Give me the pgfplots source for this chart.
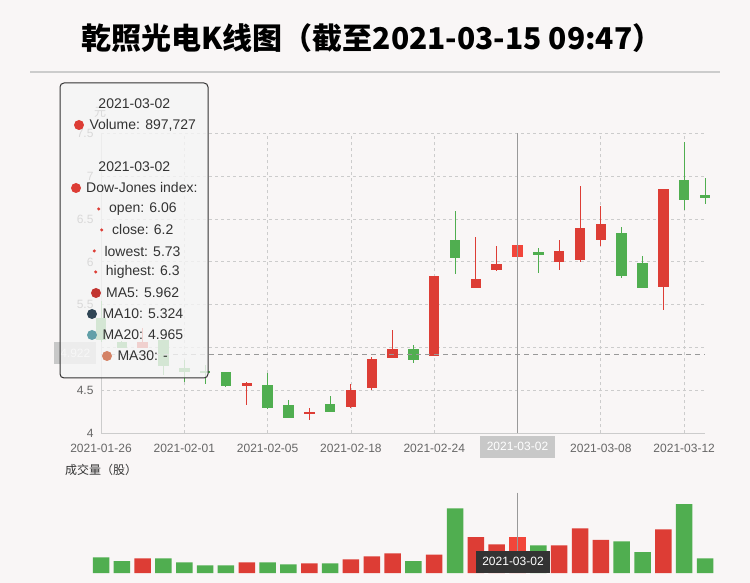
\documentclass[border=0pt]{standalone}
\usepackage{fontspec}
\setmainfont{Liberation Sans}
\newfontfamily\cjk{Noto Sans CJK SC}
\usepackage{pgfplots}
\usepackage{pgfplotstable}
\pgfplotsset{compat=1.18}

\definecolor{bg}{HTML}{F9F6F6}
\definecolor{up}{HTML}{DD3D35}
\definecolor{upHL}{HTML}{F2453A}
\definecolor{dn}{HTML}{50AE50}
\definecolor{gridc}{HTML}{CCCCCC}
\definecolor{lab}{HTML}{666666}
\definecolor{txt}{HTML}{333333}
\definecolor{ptr}{HTML}{C8C8C8}

% i = trading day index, o/c/l/h = open/close/low/high, v = volume
\pgfplotstableread{
i  o     c     l     h     v
2  4.99  5.06  4.99  5.23  365700
7  4.55  4.59  4.33  4.60  266000
10 4.22  4.25  4.16  4.29  241000
12 4.31  4.51  4.30  4.58  340800
13 4.53  4.87  4.50  4.89  415600
14 4.88  4.98  4.88  5.20  490400
16 4.90  5.83  4.90  5.83  457200
18 5.69  5.80  5.69  6.29  897700
19 5.91  5.97  5.89  6.18  714800
20 6.06  6.20  5.73  6.30  897727
22 6.00  6.13  5.91  6.25  689900
23 6.02  6.39  6.00  6.88  1113800
24 6.26  6.44  6.19  6.65  831200
27 5.71  6.85  5.44  6.85  1088900
}\up

\pgfplotstableread{
i  o     c     l     h     v
0  5.34  5.09  5.06  5.54  390700
1  5.07  4.99  4.99  5.08  299200
3  5.09  4.78  4.68  5.09  365700
4  4.76  4.71  4.60  4.85  266000
5  4.73  4.71  4.58  4.80  191200
6  4.71  4.55  4.54  4.72  191200
8  4.56  4.29  4.28  4.70  266000
9  4.33  4.18  4.175 4.39  216100
11 4.34  4.25  4.245 4.43  241000
15 4.98  4.86  4.82  5.03  299200
17 6.26  6.04  5.86  6.59  1612500
21 6.11  6.08  5.875 6.16  689900
25 6.34  5.83  5.81  6.41  789600
26 5.99  5.70  5.70  6.07  523700
28 6.96  6.72  6.60  7.40  1720600
29 6.78  6.74  6.68  6.98  365700
}\down

\pgfplotsset{
  wick/.style={only marks, mark=*, mark size=0pt, mark options={opacity=0}, forget plot,
    error bars/y dir=both, error bars/y explicit, error bars/error mark=none,
    error bars/error bar style={line width=1bp, draw=#1, opacity=1}},
  body/.style={only marks, mark=*, mark size=0pt, mark options={opacity=0}, forget plot,
    error bars/y dir=both, error bars/y explicit, error bars/error mark=none,
    error bars/error bar style={line width=10.5bp, draw=#1, opacity=1}},
}

\begin{document}
\begin{tikzpicture}
\path[use as bounding box, fill=bg] (0,0) rectangle (750bp,583bp);

% title
\node[font=\cjk\bfseries\fontsize{30bp}{34bp}\selectfont, text=black] at (372bp,545bp)
  {乾照光电K线图（截至2021-03-15 09:47）};
\draw[draw=gridc, line width=1.5bp] (30bp,511bp) -- (720bp,511bp);

% price chart
\begin{axis}[
  at={(101bp,149.7bp)}, anchor=south west,
  scale only axis, width=604bp, height=300bp,
  xmin=0, xmax=29, ymin=4, ymax=7.5, clip=false,
  axis x line*=bottom, axis y line*=left,
  axis line style={draw=gridc, -},
  xtick={0,4,...,28},
  xticklabels={2021-01-26,2021-02-01,2021-02-05,2021-02-18,2021-02-24,2021-03-02,2021-03-08,2021-03-12},
  ytick={4,4.5,...,7.5},
  major tick length=0pt,
  grid=major,
  major grid style={draw=gridc, dash pattern=on 3bp off 3bp, line width=0.8bp},
  tick label style={font=\fontsize{12bp}{14bp}\selectfont, text=lab},
  /pgf/number format/assume math mode=true,
  yticklabel style={xshift=-4bp},
  xticklabel style={yshift=-7bp},
]
\addplot[wick=dn] table[x=i, y expr={(\thisrow{l}+\thisrow{h})/2}, y error expr={(\thisrow{h}-\thisrow{l})/2}] {\down};
\addplot[body=dn] table[x=i, y expr={(\thisrow{o}+\thisrow{c})/2}, y error expr={abs(\thisrow{c}-\thisrow{o})/2}] {\down};
\addplot[wick=up] table[x=i, y expr={(\thisrow{l}+\thisrow{h})/2}, y error expr={(\thisrow{h}-\thisrow{l})/2}] {\up};
\addplot[body=up] table[x=i, y expr={(\thisrow{o}+\thisrow{c})/2}, y error expr={abs(\thisrow{c}-\thisrow{o})/2}] {\up};
\addplot[body=upHL, restrict x to domain=19.5:20.5] table[x=i, y expr={(\thisrow{o}+\thisrow{c})/2}, y error expr={abs(\thisrow{c}-\thisrow{o})/2}] {\up};

% crosshair
\draw[draw=gray!80, line width=0.8bp] (axis cs:20,4) -- (axis cs:20,7.5);
\draw[draw=gray!80, line width=0.8bp, dash pattern=on 5bp off 4bp] (axis cs:0,4.922) -- (axis cs:29,4.922);
\end{axis}

\node[font=\fontsize{12bp}{14bp}\selectfont, text=lab] at (100bp,471bp) {\cjk 元};

% pointer labels
\node[fill=ptr, text=white, font=\fontsize{12bp}{14bp}\selectfont, minimum width=75bp, minimum height=22bp, inner sep=0pt]
  at (517.5bp,136.3bp) {2021-03-02};
\node[fill=ptr, text=white, font=\fontsize{12bp}{14bp}\selectfont, minimum width=42bp, minimum height=22bp, inner sep=0pt]
  at (75.3bp,229.5bp) {4.922};

% volume chart
\node[anchor=west, inner sep=0pt, text=txt, font=\cjk\fontsize{12bp}{14bp}\selectfont] at (65bp,113bp) {成交量（股）};
\begin{axis}[
  at={(101bp,10bp)}, anchor=south west,
  scale only axis, width=604bp, height=80bp,
  xmin=0, xmax=29, ymin=0, ymax=2000000, clip=false,
  hide axis,
]
\addplot[ybar, bar width=16.5bp, bar shift=0pt, fill=dn, draw=none] table[x=i, y=v] {\down};
\addplot[ybar, bar width=16.5bp, bar shift=0pt, fill=up, draw=none] table[x=i, y=v] {\up};
\addplot[ybar, bar width=16.5bp, bar shift=0pt, fill=upHL, draw=none, restrict x to domain=19.5:20.5] table[x=i, y=v] {\up};
\end{axis}
\draw[draw=gray!80, line width=0.8bp] (517bp,90.3bp) -- (517bp,32.3bp);
\node[fill=txt, text=white, font=\fontsize{12bp}{14bp}\selectfont, minimum width=74bp, minimum height=22bp, inner sep=0pt]
  at (513bp,21.3bp) {2021-03-02};

% tooltip
\draw[draw=txt, line width=1bp, rounded corners=4bp, fill=white!96!black, fill opacity=0.8]
  (60bp,500bp) rectangle (208bp,205bp);
\begin{scope}[every node/.style={font=\fontsize{14bp}{16bp}\selectfont, text=txt, inner sep=0pt}]
\node at (134.3bp,479bp) {2021-03-02};
\fill[up] (79bp,458bp) circle (5bp);
\node[anchor=west] at (89.3bp,458bp) {Volume: 897,727};
\node at (134.3bp,416bp) {2021-03-02};
\fill[up] (76bp,395bp) circle (5bp);
\node[anchor=west] at (86bp,395bp) {Dow-Jones index:};
\fill[up] (98.7bp,374bp) circle (1.7bp);
\node[anchor=west] at (109bp,374bp) {open: 6.06};
\fill[up] (101.7bp,353bp) circle (1.7bp);
\node[anchor=west] at (112bp,353bp) {close: 6.2};
\fill[up] (94.3bp,332bp) circle (1.7bp);
\node[anchor=west] at (104.3bp,332bp) {lowest: 5.73};
\fill[up] (95.7bp,311bp) circle (1.7bp);
\node[anchor=west] at (105.7bp,311bp) {highest: 6.3};
\fill[fill={rgb,255:red,194;green,53;blue,49}] (96bp,290bp) circle (5bp);
\node[anchor=west] at (106bp,290bp) {MA5: 5.962};
\fill[fill={rgb,255:red,47;green,69;blue,84}] (92bp,269bp) circle (5bp);
\node[anchor=west] at (102.3bp,269bp) {MA10: 5.324};
\fill[fill={rgb,255:red,97;green,160;blue,168}] (92bp,248bp) circle (5bp);
\node[anchor=west] at (102.3bp,248bp) {MA20: 4.965};
\fill[fill={rgb,255:red,212;green,130;blue,101}] (107bp,227bp) circle (5bp);
\node[anchor=west] at (117.3bp,227bp) {MA30: -};
\end{scope}
\end{tikzpicture}
\end{document}
